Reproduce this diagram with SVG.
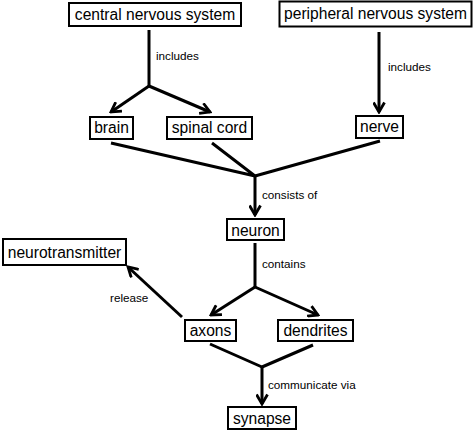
<svg xmlns="http://www.w3.org/2000/svg" width="474" height="432" viewBox="0 0 474 432">
<defs>
<style>
.box{fill:#fff;stroke:#000;stroke-width:2}
.nt{font-family:"Liberation Sans",Arial,sans-serif;font-size:15.6px;fill:#000;text-anchor:middle}
.lb{font-family:"Liberation Sans",Arial,sans-serif;font-size:11.7px;fill:#000}
.ln{fill:none;stroke:#000;stroke-width:3;stroke-linecap:butt}
</style>
<marker id="ah" viewBox="0 0 13 13" refX="11" refY="6.5" markerWidth="13" markerHeight="13" markerUnits="userSpaceOnUse" orient="auto">
<path d="M1.5,1 L11,6.5 L1.5,12" fill="none" stroke="#000" stroke-width="2.8"/>
</marker>
</defs>
<rect width="474" height="432" fill="#fff"/>
<g id="connectors">
<path class="ln" d="M149,30 V86"/>
<path class="ln" d="M149,86 L111,112" marker-end="url(#ah)"/>
<path class="ln" d="M149,86 L210,112" marker-end="url(#ah)"/>
<path class="ln" d="M379,32 V112" marker-end="url(#ah)"/>
<path class="ln" d="M111,143 L255,176 M212,143 L255,176 M380,141 L255,176"/>
<path class="ln" d="M255,176 V215" marker-end="url(#ah)"/>
<path class="ln" d="M255,243 V287"/>
<path class="ln" d="M255,287 L211,315" marker-end="url(#ah)"/>
<path class="ln" d="M255,287 L318,315" marker-end="url(#ah)"/>
<path class="ln" d="M182,317 L128,267" marker-end="url(#ah)"/>
<path class="ln" d="M210,344 L262,367 M313,345 L262,367"/>
<path class="ln" d="M262,367 V404" marker-end="url(#ah)"/>
<text class="lb" x="156" y="60">includes</text>
<text class="lb" x="388" y="71">includes</text>
<text class="lb" x="262" y="199">consists of</text>
<text class="lb" x="262" y="268">contains</text>
<text class="lb" x="110" y="302">release</text>
<text class="lb" x="268" y="389">communicate via</text>
</g>
<g id="cns"><rect class="box" x="69" y="3" width="172" height="23"/><text class="nt" x="155" y="20">central nervous system</text></g>
<g id="pns"><rect class="box" x="279.5" y="1.5" width="192" height="25"/><text class="nt" x="375.5" y="19">peripheral nervous system</text></g>
<g id="brain"><rect class="box" x="90" y="117" width="43" height="22"/><text class="nt" x="111.5" y="133">brain</text></g>
<g id="spinal"><rect class="box" x="167" y="117" width="85" height="22"/><text class="nt" x="209.5" y="133">spinal cord</text></g>
<g id="nerve"><rect class="box" x="356" y="116" width="47" height="22"/><text class="nt" x="379.5" y="132">nerve</text></g>
<g id="neuron"><rect class="box" x="227" y="219" width="57" height="21"/><text class="nt" x="255.5" y="235.5">neuron</text></g>
<g id="neurotransmitter"><rect class="box" x="3" y="239" width="123" height="26"/><text class="nt" x="64.5" y="257.5">neurotransmitter</text></g>
<g id="axons"><rect class="box" x="185" y="320" width="51" height="21"/><text class="nt" x="210.5" y="336">axons</text></g>
<g id="dendrites"><rect class="box" x="278" y="320" width="75" height="21"/><text class="nt" x="315.5" y="336">dendrites</text></g>
<g id="synapse"><rect class="box" x="228" y="407" width="68" height="22"/><text class="nt" x="262" y="423.5">synapse</text></g>
</svg>
